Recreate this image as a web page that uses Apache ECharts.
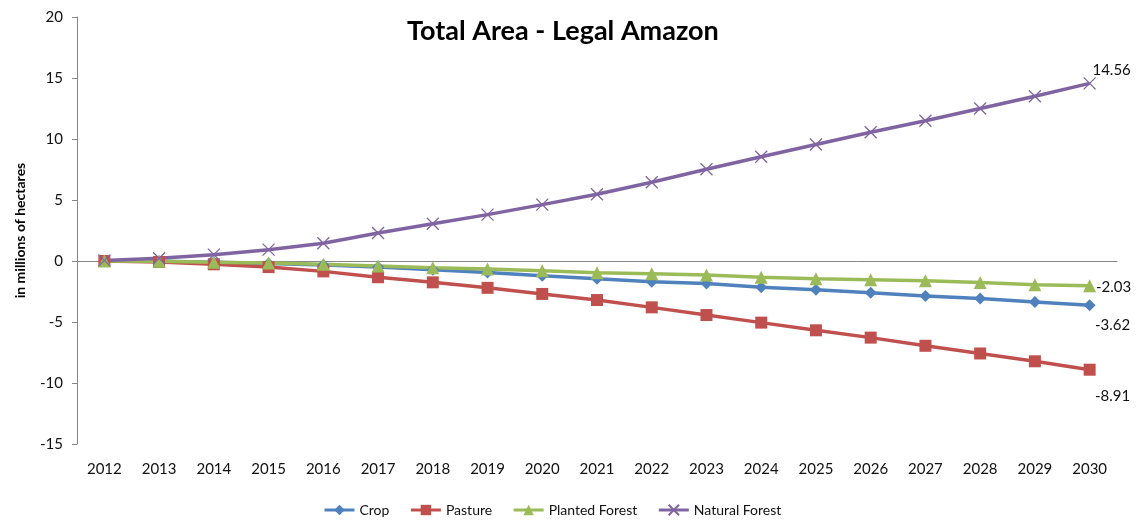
<!DOCTYPE html>
<html style="height: 100%">
<head>
    <meta charset="utf-8">
    <script src="https://cdn.jsdelivr.net/npm/echarts@6/dist/echarts.min.js"></script>
</head>
<body style="height: 100%; margin: 0; background: #fff">
<div id="container" style="width: 1136px; height: 522px"></div>
<script type="text/javascript">
var years = ['2012','2013','2014','2015','2016','2017','2018','2019','2020','2021',
             '2022','2023','2024','2025','2026','2027','2028','2029','2030'];
var crop = [0, -0.03, -0.1, -0.2, -0.32, -0.5, -0.72, -0.95, -1.2, -1.45,
            -1.7, -1.85, -2.15, -2.35, -2.6, -2.87, -3.07, -3.36, -3.62];
var pasture = [0, -0.08, -0.27, -0.5, -0.85, -1.33, -1.75, -2.2, -2.7, -3.2,
               -3.8, -4.43, -5.05, -5.68, -6.28, -6.95, -7.58, -8.22, -8.91];
var planted = [0, -0.03, -0.1, -0.17, -0.27, -0.4, -0.55, -0.65, -0.8, -0.96,
               -1.05, -1.15, -1.34, -1.45, -1.53, -1.62, -1.76, -1.94, -2.03];
var natural = [0.05, 0.22, 0.52, 0.93, 1.45, 2.3, 3.05, 3.8, 4.62, 5.47,
               6.45, 7.52, 8.55, 9.55, 10.55, 11.5, 12.5, 13.5, 14.56];

var font = 'Lato, "Open Sans", sans-serif';
var crossPath = 'path://M0,0 L10,10 M10,0 L0,10';

// label only on the last point of each line
function withEndLabel(arr, offset) {
    return arr.map(function (v, i) {
        if (i !== arr.length - 1) return v;
        return {
            value: v,
            label: {
                show: true, position: 'inside', offset: offset,
                formatter: '{c}', color: '#111', fontSize: 15, fontFamily: font
            }
        };
    });
}

var myChart = echarts.init(document.getElementById('container'));
var option = {
    animation: false,
    title: {
        text: 'Total Area - Legal Amazon',
        left: 402, top: 13,
        textStyle: {fontFamily: font, fontSize: 27, fontWeight: 'bold', color: '#000'}
    },
    legend: {
        bottom: 0,
        left: 318,
        itemWidth: 30, itemHeight: 13, itemGap: 20,
        lineStyle: {width: 3},
        textStyle: {fontFamily: font, fontSize: 14, color: '#111'},
        data: ['Crop', 'Pasture', 'Planted Forest', 'Natural Forest']
    },
    grid: {left: 77, right: 19, top: 17, bottom: 78},
    xAxis: [
        {
            type: 'category',
            data: years,
            axisLine: {onZero: true, lineStyle: {color: '#868686', width: 1}},
            axisTick: {inside: true, length: 5, lineStyle: {color: '#868686'}},
            axisLabel: {show: false}
        },
        {
            type: 'category',
            data: years,
            position: 'bottom',
            axisLine: {show: false, onZero: false},
            axisTick: {show: false},
            axisLabel: {margin: 18, fontFamily: font, fontSize: 15, color: '#111'}
        }
    ],
    yAxis: {
        type: 'value',
        min: -15, max: 20, interval: 5,
        name: 'in millions of hectares',
        nameLocation: 'middle',
        nameGap: 50,
        nameTextStyle: {fontFamily: font, fontSize: 14, fontWeight: 'bold', color: '#000'},
        axisLine: {show: true, lineStyle: {color: '#868686'}},
        axisTick: {show: true, length: 5, lineStyle: {color: '#868686'}},
        axisLabel: {margin: 14, fontFamily: font, fontSize: 15, color: '#111'},
        splitLine: {show: false}
    },
    series: [
        {
            name: 'Crop', type: 'line', xAxisIndex: 0,
            data: withEndLabel(crop, [23, 20]),
            symbol: 'diamond', symbolSize: 12,
            color: '#4F81BD',
            lineStyle: {width: 3.5}
        },
        {
            name: 'Pasture', type: 'line', xAxisIndex: 0,
            data: withEndLabel(pasture, [23, 26]),
            symbol: 'rect', symbolSize: 12,
            color: '#C0504D',
            lineStyle: {width: 3.5}
        },
        {
            name: 'Planted Forest', type: 'line', xAxisIndex: 0,
            data: withEndLabel(planted, [24, 1]),
            symbol: 'triangle', symbolSize: 13,
            color: '#9BBB59',
            lineStyle: {width: 3.5}
        },
        {
            name: 'Natural Forest', type: 'line', xAxisIndex: 0,
            data: withEndLabel(natural, [22, -13]),
            symbol: crossPath, symbolSize: 12,
            color: '#8064A2',
            itemStyle: {borderColor: '#8064A2', borderWidth: 1.3},
            lineStyle: {width: 3.5}
        }
    ]
};
myChart.setOption(option, true);
</script>
</body>
</html>
